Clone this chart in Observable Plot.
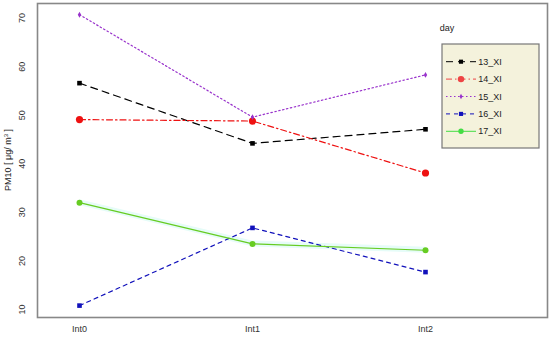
<!DOCTYPE html>
<html><head><meta charset="utf-8">
<script src="https://cdn.jsdelivr.net/npm/d3@7"></script>
<script src="https://cdn.jsdelivr.net/npm/@observablehq/plot@0.6"></script>
<style>body{margin:0;background:#fff;font-family:"Liberation Sans",Arial,sans-serif}</style>
</head><body><div id="chart"></div>
<script>
const intervals = ["Int0", "Int1", "Int2"];
const days = ["13_XI", "14_XI", "15_XI", "16_XI", "17_XI"];
const v13 = [56.6, 44.2, 47.1];
const v14 = [49.1, 48.8, 38.1];
const v15 = [70.7, 49.6, 58.3];
const v16 = [10.8, 26.8, 17.7];
const v17 = [32.0, 23.5, 22.2];
const yTicks = [10, 20, 30, 40, 50, 60, 70];

const series = [v13, v14, v15, v16, v17];
const styles = [
  {color: "#000000", dash: "7,5", symbol: "square", r: 2.6},
  {color: "#ee1111", dash: "6,3,1.5,3", symbol: "circle", r: 3.6},
  {color: "#9933cc", dash: "1.5,2.5", symbol: "diamond", r: 1.8},
  {color: "#1111bb", dash: "4,4", symbol: "square", r: 2.6},
  {color: "#66cc22", dash: null, symbol: "circle", r: 3.0}
];
const legendColors = ["#000000", "#ee4444", "#9933cc", "#1111bb", "#44dd44"];

const rows = [];
days.forEach((d, i) => series[i].forEach((v, j) => rows.push({day: d, int: intervals[j], v, i})));

const marks = [
  Plot.areaY(rows.filter(r => r.day === "17_XI"), {x: "int", y1: r => r.v - 0.6, y2: r => r.v + 0.6, fill: "#e6fcf8"}),
];
days.forEach((d, i) => {
  const st = styles[i];
  const data = rows.filter(r => r.day === d);
  marks.push(Plot.line(data, {x: "int", y: "v", stroke: st.color, strokeWidth: 1.2, strokeDasharray: st.dash}));
  marks.push(Plot.dot(data, {x: "int", y: "v", fill: st.color, stroke: "none", symbol: st.symbol, r: st.r}));
});
marks.push(Plot.frame({stroke: "#888", strokeWidth: 1.6}));

const chart = Plot.plot({
  width: 550, height: 339,
  marginLeft: 37, marginRight: 3, marginTop: 3, marginBottom: 22,
  style: {fontFamily: "Liberation Sans, Arial, sans-serif", fontSize: "9px", color: "#333"},
  x: {type: "point", domain: intervals, range: [79, 425], padding: 0, label: null, tickSize: 0, tickPadding: 8},
  y: {domain: [8.35, 73], ticks: yTicks, label: null, tickSize: 0, tickPadding: 13, tickRotate: -90},
  marks
});
document.getElementById("chart").appendChild(chart);

const svg = d3.select(chart);
svg.append("text").attr("transform", "translate(11,160) rotate(-90)")
  .attr("text-anchor", "middle").attr("font-size", 9).attr("fill", "#222")
  .html('PM10 [ μg/ m<tspan dy="-3" font-size="6">3</tspan><tspan dy="3"> ]</tspan>');

const lg = svg.append("g");
lg.append("text").attr("x", 447).attr("y", 31).attr("font-size", 9).attr("fill", "#222").text("day");
lg.append("rect").attr("x", 442).attr("y", 44).attr("width", 97).attr("height", 104)
  .attr("fill", "#f4f2dc").attr("stroke", "#777").attr("stroke-width", 1.2);
days.forEach((d, i) => {
  const y = 61.7 + i * 17.4;
  const st = styles[i];
  lg.append("line").attr("x1", 446).attr("x2", 476).attr("y1", y).attr("y2", y)
    .attr("stroke", legendColors[i]).attr("stroke-width", 1).attr("stroke-dasharray", st.dash);
  const sym = d3.symbol(st.symbol === "square" ? d3.symbolSquare : st.symbol === "diamond" ? d3.symbolDiamond : d3.symbolCircle, Math.PI * st.r * st.r * 0.8);
  lg.append("path").attr("d", sym()).attr("transform", `translate(461,${y})`).attr("fill", legendColors[i]);
  lg.append("text").attr("x", 490).attr("y", y + 3).attr("font-size", 9).attr("fill", "#222").text(d);
});
</script></body></html>
